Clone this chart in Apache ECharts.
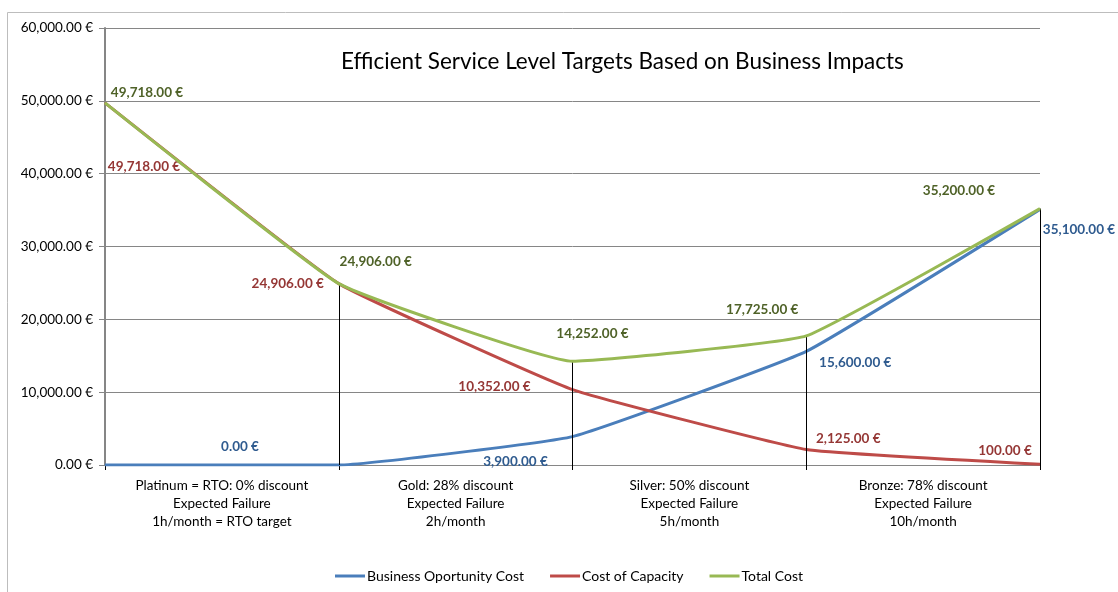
<!DOCTYPE html>
<html>
<head>
<meta charset="utf-8">
<script src="https://cdn.jsdelivr.net/npm/echarts@6/dist/echarts.min.js"></script>
<style>
  html, body { margin: 0; padding: 0; background: #fff; }
  #chart { width: 1118px; height: 592px; }
</style>
</head>
<body>
<div id="chart"></div>
<script>
// ---- data ----
const chartTitle = 'Efficient Service Level Targets Based on Business Impacts';
const boundaryPoints = [0, 1, 2, 3, 4];
const tierLabels = [
  'Platinum = RTO: 0% discount\nExpected Failure\n1h/month = RTO target',
  'Gold: 28% discount\nExpected Failure\n2h/month',
  'Silver: 50% discount\nExpected Failure\n5h/month',
  'Bronze: 78% discount\nExpected Failure\n10h/month'
];
const seriesNames = ['Business Oportunity Cost', 'Cost of Capacity', 'Total Cost'];
const businessCost = [0, 0, 3900, 15600, 35100];
const capacityCost = [49718, 24906, 10352, 2125, 100];
const totalCost = [49718, 24906, 14252, 17725, 35200];
const yTicks = [0, 10000, 20000, 30000, 40000, 50000, 60000];

// ---- layout (label placement, px offsets from the point) ----
const labelOffsets = [
  [[135, -18], null, [-57, 25], [49, 11], [39, 20]],
  [[39, 64], [-51, 0], [-78, -3], [42, -11], [-35, -14]],
  [[42, -10], [37, -22], [20, -28], [-44, -26], [-81, -18]]
];
const lineColors = ['#4A7EBB', '#BE4B48', '#98B954'];
const labelColors = ['#2F5B8F', '#953735', '#4F6228'];
const FONT = 'Lato';

function euro(v) {
  return v.toLocaleString('en-US', { minimumFractionDigits: 2, maximumFractionDigits: 2 }) + ' €';
}

const allValues = [businessCost, capacityCost, totalCost];

function buildSeries(idx) {
  const vals = allValues[idx];
  return {
    name: seriesNames[idx],
    type: 'line',
    xAxisIndex: 0,
    smooth: 0.1,
    symbol: 'circle',
    symbolSize: 1,
    lineStyle: { color: lineColors[idx], width: 3 },
    itemStyle: { color: lineColors[idx] },
    z: 3 + idx,
    data: boundaryPoints.map((p, i) => {
      const off = labelOffsets[idx][i];
      return {
        value: [p, vals[i]],
        label: off ? {
          show: true,
          position: 'inside',
          offset: off,
          formatter: () => euro(vals[i]),
          color: labelColors[idx],
          fontFamily: FONT,
          fontWeight: 'bold',
          fontSize: 13.5
        } : { show: false }
      };
    })
  };
}

const series = [buildSeries(0), buildSeries(1), buildSeries(2)];
// drop lines from the highest value at each boundary down to zero
series.push({
  type: 'line',
  xAxisIndex: 0,
  data: [],
  silent: true,
  z: 2,
  markLine: {
    silent: true,
    symbol: ['none', 'none'],
    label: { show: false },
    lineStyle: { color: '#000', width: 1, type: 'solid' },
    data: boundaryPoints.slice(1).map((p, j) => {
      const i = j + 1;
      const top = Math.max(businessCost[i], capacityCost[i], totalCost[i]);
      return [{ coord: [p, top] }, { coord: [p, 0] }];
    })
  }
});

const chart = echarts.init(document.getElementById('chart'), null, { renderer: 'canvas' });
chart.setOption({
  animation: false,
  backgroundColor: '#fff',
  textStyle: { fontFamily: FONT },
  graphic: [{
    type: 'rect',
    shape: { x: 7.5, y: 12.5, width: 1200, height: 700 },
    style: { fill: 'none', stroke: '#BDBDBD', lineWidth: 1 },
    silent: true,
    z: -10
  }],
  title: {
    text: chartTitle,
    left: 336,
    top: 45,
    textStyle: { fontFamily: FONT, fontWeight: 'normal', fontSize: 22.5, color: '#000' }
  },
  legend: {
    left: 330,
    top: 564,
    itemWidth: 30,
    itemHeight: 3,
    itemGap: 26,
    icon: 'rect',
    data: seriesNames,
    textStyle: { fontFamily: FONT, fontSize: 14, color: '#000', padding: [0, 0, 0, -3] }
  },
  grid: { left: 105, right: 78, top: 28, bottom: 127, containLabel: false },
  xAxis: [{
    type: 'value',
    min: 0,
    max: 4,
    interval: 1,
    position: 'bottom',
    axisLine: { show: true, onZero: false, lineStyle: { color: '#868686', width: 1 } },
    axisTick: { show: true, inside: false, length: 5, lineStyle: { color: '#000' } },
    axisLabel: { show: false },
    splitLine: { show: false }
  }, {
    type: 'category',
    data: tierLabels,
    boundaryGap: true,
    position: 'bottom',
    axisLine: { show: false },
    axisTick: { show: false },
    axisLabel: {
      show: true,
      interval: 0,
      margin: 12,
      fontFamily: FONT,
      fontSize: 13.5,
      lineHeight: 18,
      color: '#000'
    },
    splitLine: { show: false }
  }],
  yAxis: {
    type: 'value',
    min: yTicks[0],
    max: yTicks[yTicks.length - 1],
    interval: yTicks[1] - yTicks[0],
    axisLine: { show: true, lineStyle: { color: '#868686', width: 2 } },
    axisTick: { show: true, inside: false, length: 6, lineStyle: { color: '#868686' } },
    axisLabel: {
      margin: 12,
      fontFamily: FONT,
      fontSize: 13.5,
      color: '#000',
      formatter: (v) => euro(v)
    },
    splitLine: { show: true, lineStyle: { color: '#868686', width: 1 } }
  },
  series: series
});
</script>
</body>
</html>
